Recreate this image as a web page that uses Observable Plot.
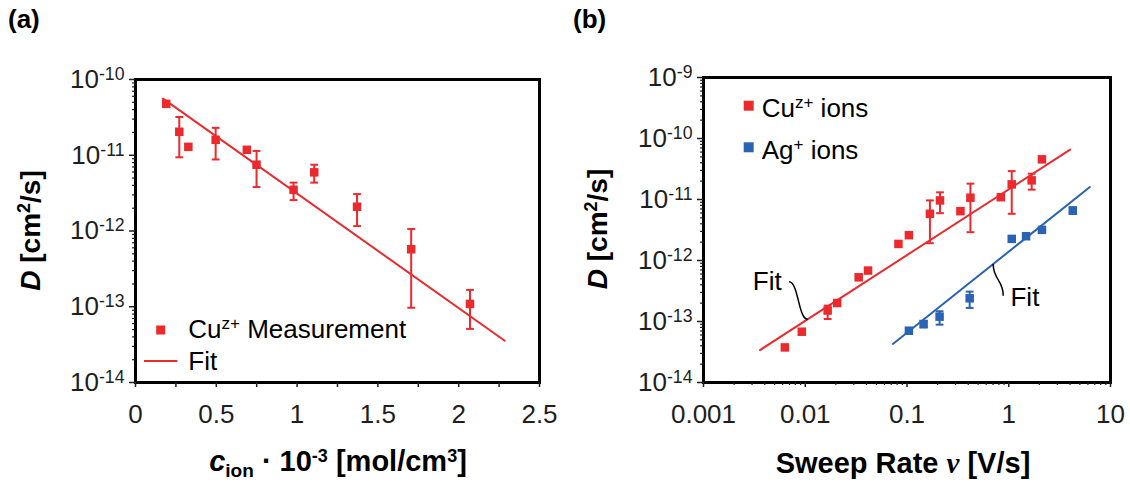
<!DOCTYPE html>
<html><head><meta charset="utf-8">
<script src="https://cdn.jsdelivr.net/npm/d3@7"></script>
<script src="https://cdn.jsdelivr.net/npm/@observablehq/plot@0.6"></script>
<style>
html,body{margin:0;padding:0;background:#fff;}
#wrap{position:relative;width:1130px;height:483px;overflow:hidden;}
#pa,#pb{position:absolute;top:0;}
#pa{left:0;} #pb{left:565px;}
</style></head><body>
<div id="wrap"><div id="pa"></div><div id="pb"></div><svg id="ov" width="1130" height="483" style="position:absolute;left:0;top:0"></svg></div>
<script>
const RED = "#eb2a2e", BLUE = "#2a63b3", INK = "#1e1e1e";

// ---------- Panel (a): D vs c_ion ----------
const concA = [0.190, 0.271, 0.327, 0.496, 0.689, 0.749, 0.978, 1.106, 1.371, 1.706, 2.070];
const dA    = [4.77e-11, 2.04e-11, 1.29e-11, 1.6e-11, 1.18e-11, 7.5e-12, 3.5e-12, 5.95e-12, 2.09e-12, 5.74e-13, 1.09e-13];
const dAHi  = [null, 3.2e-11, null, 2.3e-11, null, 1.14e-11, 4.35e-12, 7.5e-12, 3.07e-12, 1.06e-12, 1.67e-13];
const dALo  = [null, 9.4e-12, null, 8.8e-12, null, 3.8e-12, 2.56e-12, 4.35e-12, 1.16e-12, 9.7e-14, 5.1e-14];
const fitAx = [0.170, 2.285];
const fitAy = [5.6e-11, 3.56e-14];
const xDomainA = [0, 2.5];
const yDomainA = [1e-14, 1e-10];
const xTicksA = [0, 0.5, 1, 1.5, 2, 2.5];
const xTickLabelsA = ["0", "0.5", "1", "1.5", "2", "2.5"];
const xMinorA = [0.25, 0.75, 1.25, 1.75, 2.25];
const yTicksA = [1e-14, 1e-13, 1e-12, 1e-11, 1e-10];

// ---------- Panel (b): D vs sweep rate ----------
const rateCu = [0.0063, 0.00925, 0.0166, 0.0206, 0.0335, 0.0414, 0.0824, 0.1044, 0.168, 0.211, 0.335, 0.42, 0.836, 1.07, 1.68, 2.12];
const dCu    = [3.76e-14, 6.8e-14, 1.51e-13, 2.01e-13, 5.3e-13, 6.84e-13, 1.87e-12, 2.6e-12, 5.83e-12, 9.66e-12, 6.44e-12, 1.07e-11, 1.09e-11, 1.77e-11, 2.06e-11, 4.55e-11];
const dCuHi  = [null, null, 1.82e-13, null, null, null, null, null, 9.66e-12, 1.31e-11, null, 1.82e-11, 1.2e-11, 2.92e-11, 2.65e-11, null];
const dCuLo  = [null, null, 1.1e-13, null, null, null, null, null, 1.92e-12, 5.97e-12, null, 2.91e-12, 9.8e-12, 5.83e-12, 1.45e-11, null];
const rateAg = [0.1044, 0.1456, 0.209, 0.413, 1.07, 1.48, 2.12, 4.26];
const dAg    = [7.06e-14, 9.1e-14, 1.2e-13, 2.4e-13, 2.26e-12, 2.5e-12, 3.18e-12, 6.6e-12];
const dAgHi  = [null, 1.02e-13, 1.47e-13, 3.09e-13, null, null, null, 7.4e-12];
const dAgLo  = [null, 8.0e-14, 8.87e-14, 1.67e-13, null, null, null, 5.8e-12];
const fitCuX = [0.00359, 4.01];
const fitCuY = [3.4e-14, 6.56e-11];
const fitAgX = [0.0726, 6.27];
const fitAgY = [4.28e-14, 1.6e-11];
const xDomainB = [0.001, 10];
const yDomainB = [1e-14, 1e-9];
const xTicksB = [0.001, 0.01, 0.1, 1, 10];
const xTickLabelsB = ["0.001", "0.01", "0.1", "1", "10"];
const yTicksB = [1e-14, 1e-13, 1e-12, 1e-11, 1e-10, 1e-9];
// "Fit" annotations (data units)
const fitLabelsB = [
  {x: 0.00587, y: 4.5e-13, text: "Fit"},
  {x: 1.04, y: 2.49e-13, text: "Fit"}
];
const fitLeadersB = [
  {x1: 0.00693, y1: 4.5e-13, x2: 0.01055, y2: 1.09e-13},
  {x1: 0.703, y1: 8.73e-13, x2: 0.883, y2: 2.65e-13}
];

// ---------- helpers ----------
function logMinors(e0, e1) {
  const out = [];
  for (let e = e0; e < e1; e++) for (let k = 2; k <= 9; k++) out.push(+(k * Math.pow(10, e)).toPrecision(3));
  return out;
}
const cap = {draw(ctx, size) { const w = Math.sqrt(size); ctx.moveTo(-w / 2, 0); ctx.lineTo(w / 2, 0); }};
const rows = (xs, ys, hi, lo) => xs.map((x, i) => ({x, y: ys[i], hi: hi[i], lo: lo[i]}));
const pts = (xs, ys) => xs.map((x, i) => ({x, y: ys[i]}));
const supFmt = d => "10^" + Math.round(Math.log10(d));

function seriesMarks(data, color) {
  const err = data.filter(d => d.hi != null);
  return [
    Plot.ruleX(err, {x: "x", y1: "lo", y2: "hi", stroke: color, strokeWidth: 2}),
    Plot.dot(err, {x: "x", y: "hi", symbol: cap, r: 4.4, stroke: color, strokeWidth: 2, fill: "none"}),
    Plot.dot(err, {x: "x", y: "lo", symbol: cap, r: 4.4, stroke: color, strokeWidth: 2, fill: "none"}),
    Plot.dot(data, {x: "x", y: "y", symbol: "square", r: 4.8, fill: color, stroke: "none"})
  ];
}

function supTicks(svg) {
  d3.select(svg).selectAll("text").each(function () {
    const m = /^10\^(-?\d+)$/.exec(this.textContent.trim());
    if (m) {
      const s = d3.select(this);
      s.text("10");
      s.append("tspan").attr("dy", "-0.45em").attr("font-size", "0.68em").text(m[1]);
    }
  });
}

const style = {fontSize: "26px", fontFamily: "'Liberation Sans', Arial, sans-serif", color: INK};

// ---------- Panel (a) ----------
const chartA = Plot.plot({
  width: 565, height: 483,
  marginLeft: 135, marginRight: 26, marginTop: 79, marginBottom: 101,
  style,
  x: {domain: xDomainA},
  y: {type: "log", domain: yDomainA},
  marks: [
    Plot.frame({stroke: "black", strokeWidth: 3}),
    Plot.line(pts(fitAx, fitAy), {x: "x", y: "y", stroke: RED, strokeWidth: 2}),
    ...seriesMarks(rows(concA, dA, dAHi, dALo), RED),
    Plot.axisX({ticks: xTicksA, tickSize: 5, tickPadding: 17, strokeWidth: 1.5, tickFormat: d => xTickLabelsA[xTicksA.indexOf(d)], label: null}),
    Plot.axisX({ticks: xMinorA, tickSize: 5, strokeWidth: 1.5, tickFormat: () => "", label: null}),
    Plot.axisY({ticks: yTicksA, tickSize: 6, tickPadding: 5, strokeWidth: 1.5, tickFormat: supFmt, label: null}),
    Plot.axisY({ticks: logMinors(-14, -10), tickSize: 3, strokeWidth: 1.2, tickFormat: () => "", label: null})
  ]
});
supTicks(chartA);
document.getElementById("pa").append(chartA);

// ---------- Panel (b) ----------
const chartB = Plot.plot({
  width: 565, height: 483,
  marginLeft: 138, marginRight: 20, marginTop: 77, marginBottom: 101,
  style,
  x: {type: "log", domain: xDomainB},
  y: {type: "log", domain: yDomainB},
  marks: [
    Plot.frame({stroke: "black", strokeWidth: 3}),
    Plot.line(pts(fitCuX, fitCuY), {x: "x", y: "y", stroke: RED, strokeWidth: 2}),
    Plot.line(pts(fitAgX, fitAgY), {x: "x", y: "y", stroke: BLUE, strokeWidth: 2}),
    ...seriesMarks(rows(rateCu, dCu, dCuHi, dCuLo), RED),
    ...seriesMarks(rows(rateAg, dAg, dAgHi, dAgLo), BLUE),
    Plot.link([fitLeadersB[0]], {x1: "x1", y1: "y1", x2: "x2", y2: "y2", curve: "bump-x", stroke: "#000", strokeWidth: 1.5}),
    Plot.link([fitLeadersB[1]], {x1: "x1", y1: "y1", x2: "x2", y2: "y2", curve: "bump-y", stroke: "#000", strokeWidth: 1.5}),
    Plot.text([fitLabelsB[0]], {x: "x", y: "y", text: "text", textAnchor: "end", lineAnchor: "middle", fill: "#000"}),
    Plot.text([fitLabelsB[1]], {x: "x", y: "y", text: "text", textAnchor: "start", lineAnchor: "middle", fill: "#000"}),
    Plot.axisX({ticks: xTicksB, tickSize: 5, tickPadding: 17, strokeWidth: 1.5, tickFormat: d => xTickLabelsB[xTicksB.indexOf(d)], label: null}),
    Plot.axisX({ticks: logMinors(-3, 1), tickSize: 3, strokeWidth: 1.2, tickFormat: () => "", label: null}),
    Plot.axisY({ticks: yTicksB, tickSize: 6, tickPadding: 5, strokeWidth: 1.5, tickFormat: supFmt, label: null}),
    Plot.axisY({ticks: logMinors(-14, -9), tickSize: 3, strokeWidth: 1.2, tickFormat: () => "", label: null})
  ]
});
supTicks(chartB);
document.getElementById("pb").append(chartB);

// ---------- overlay: panel letters, axis titles, legends ----------
const ov = d3.select("#ov");
function rich(x, y, parts, {size = 26, weight = "normal", anchor = "start", transform = null} = {}) {
  const t = ov.append("text").attr("font-size", size).attr("font-weight", weight)
    .attr("text-anchor", anchor).attr("fill", "#000")
    .attr("font-family", "'Liberation Sans', Arial, sans-serif");
  if (transform) t.attr("transform", transform); else t.attr("x", x).attr("y", y);
  let cur = 0;
  for (const p of parts) {
    const sh = p.shift || 0;
    const ts = t.append("tspan").attr("dy", sh - cur).text(p.t);
    cur = sh;
    if (p.size) ts.attr("font-size", p.size);
    if (p.italic) ts.attr("font-style", "italic");
    if (p.family) ts.attr("font-family", p.family);
    if (p.weight) ts.attr("font-weight", p.weight);
  }
  return t;
}

rich(8, 28, [{t: "(a)"}], {weight: "bold", size: 26});
rich(573, 28, [{t: "(b)"}], {weight: "bold", size: 26});

rich(338, 471, [{t: "c", italic: true}, {t: "ion", shift: 6, size: 19}, {t: " · 10"}, {t: "-3", shift: -9, size: 18}, {t: " [mol/cm"}, {t: "3", shift: -9, size: 18}, {t: "]"}], {weight: "bold", size: 29, anchor: "middle"});
rich(903, 473, [{t: "Sweep Rate "}, {t: "ν", italic: true, family: "'Liberation Serif', serif"}, {t: " [V/s]"}], {weight: "bold", size: 29, anchor: "middle"});

const yTitle = [{t: "D", italic: true}, {t: " [cm"}, {t: "2", shift: -10, size: 18}, {t: "/s]"}];
rich(0, 0, yTitle, {weight: "bold", size: 28, anchor: "middle", transform: "translate(39.5,230.5) rotate(-90)"});
rich(0, 0, yTitle, {weight: "bold", size: 28, anchor: "middle", transform: "translate(607,229) rotate(-90)"});

// legend (a)
ov.append("rect").attr("x", 156.2).attr("y", 325.5).attr("width", 9).attr("height", 9).attr("fill", RED);
rich(188.3, 338.3, [{t: "Cu"}, {t: "z+", shift: -9, size: 17}, {t: " Measurement"}]);
ov.append("line").attr("x1", 144).attr("x2", 177.3).attr("y1", 361).attr("y2", 361).attr("stroke", RED).attr("stroke-width", 2);
rich(188.3, 370.3, [{t: "Fit"}]);

// legend (b)
ov.append("rect").attr("x", 743.7).attr("y", 100.7).attr("width", 10).attr("height", 10).attr("fill", RED);
rich(761.7, 116.6, [{t: "Cu"}, {t: "z+", shift: -9, size: 17}, {t: " ions"}]);
ov.append("rect").attr("x", 743.7).attr("y", 142.3).attr("width", 10).attr("height", 10).attr("fill", BLUE);
rich(761.7, 159.3, [{t: "Ag"}, {t: "+", shift: -9, size: 17}, {t: " ions"}]);
</script></body></html>
